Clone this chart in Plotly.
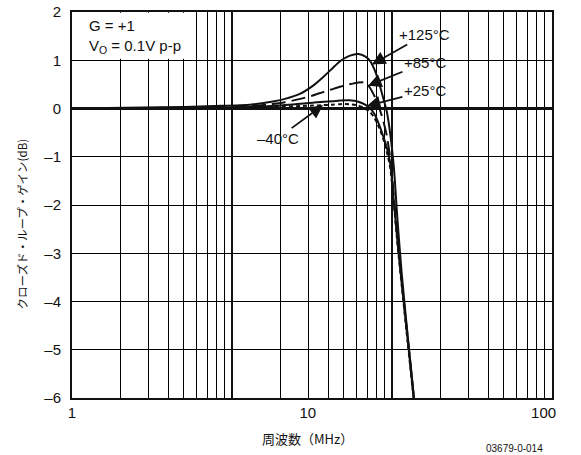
import numpy as np
import plotly.graph_objects as go

# ---- data ----
freq_mhz = [1, 2, 3, 4, 5.7, 7, 8, 9.3, 10.5, 11.6, 12.7, 13.7, 15.0, 16.4, 17.5,
            18.4, 19.2, 20.0, 20.8, 21.6, 22.4, 23.2, 24.0, 25.0, 26.2, 27.4, 28.4]
gain_125 = [0.0, 0.02, 0.03, 0.05, 0.08, 0.14, 0.20, 0.31, 0.47, 0.65, 0.83, 0.98, 1.09, 1.13, 1.08,
            0.98, 0.80, 0.55, 0.25, -0.05, -0.55, -1.25, -2.3, -3.4, -4.45, -5.4, -6.15]
gain_85 = [0.0, 0.01, 0.02, 0.03, 0.05, 0.09, 0.13, 0.20, 0.27, 0.34, 0.40, 0.45, 0.50, 0.54, 0.54,
           0.42, 0.25, 0.04, -0.22, -0.55, -1.05, -1.85, -2.7, -3.55, -4.5, -5.4, -6.15]
gain_25 = [0.0, 0.0, 0.01, 0.01, 0.03, 0.05, 0.07, 0.10, 0.12, 0.14, 0.15, 0.165, 0.17, 0.14, 0.08,
           0.0, -0.12, -0.32, -0.55, -0.8, -1.15, -1.95, -2.75, -3.6, -4.55, -5.45, -6.2]
gain_m40 = [0.0, 0.0, 0.0, 0.01, 0.02, 0.03, 0.04, 0.05, 0.06, 0.07, 0.08, 0.09, 0.09, 0.06, 0.0,
            -0.08, -0.2, -0.38, -0.6, -0.88, -1.25, -2.0, -2.8, -3.65, -4.6, -5.5, -6.2]

series_names = ["+125°C", "+85°C", "+25°C", "–40°C"]
series_gain = [gain_125, gain_85, gain_25, gain_m40]
series_dash = ["solid", "14px,6px", "solid", "4px,3px"]
# frequency (MHz) where each label's arrow touches its curve, and text offset (px)
label_tip_f = [18.7, 18.0, 17.8, 11.6]
label_off = [(53, -30), (57, -23), (58, -15), (-45, 33)]

y_ticks = [2, 1, 0, -1, -2, -3, -4, -5, -6]
y_ticktext = ["2", "1", "0", "–1", "–2", "–3", "–4", "–5", "–6"]
x_ticks = [1, 10, 100]
x_ticktext = ["1", "10", "100"]

FONT = "Liberation Sans, Arial, Noto Sans CJK JP"
JFONT = "Noto Sans CJK JP, Liberation Sans"

fig = go.Figure()
# empty traces so the overlaid grid axes get drawn
fig.add_trace(go.Scatter(x=[], y=[], xaxis="x2", yaxis="y", showlegend=False, hoverinfo="skip"))
fig.add_trace(go.Scatter(x=[], y=[], xaxis="x3", yaxis="y", showlegend=False, hoverinfo="skip"))

for name, g, d in zip(series_names, series_gain, series_dash):
    fig.add_trace(go.Scatter(x=freq_mhz, y=g, mode="lines", name=name,
                             line=dict(color="#111", width=2, dash=d, shape="spline", smoothing=0.6),
                             showlegend=False, hoverinfo="skip"))

for name, g, f, (ax, ay) in zip(series_names, series_gain, label_tip_f, label_off):
    yv = float(np.interp(np.log10(f), np.log10(freq_mhz), g))
    fig.add_annotation(x=np.log10(f), y=yv, xref="x", yref="y", text=name,
                       showarrow=True, arrowhead=2, arrowsize=1.5, arrowwidth=1.8,
                       arrowcolor="#111", ax=ax, ay=ay, axref="pixel", ayref="pixel",
                       font=dict(family=FONT, size=15, color="#111"))

# white box hiding the grid behind the condition text (upper left)
fig.add_shape(type="rect", xref="x domain", yref="y", x0=0.004, x1=0.246, y0=1.03, y1=1.985,
              fillcolor="white", line=dict(width=0), layer="above")
fig.add_annotation(xref="x domain", yref="y", x=0.031, y=1.5, xanchor="left", yanchor="middle",
                   align="left", showarrow=False,
                   text="G = +1<br>V<sub>O</sub> = 0.1V p-p",
                   font=dict(family=FONT, size=15, color="#111"))

# axis titles and code
fig.add_annotation(xref="paper", yref="paper", x=0.49, y=-0.104, text="周波数（MHz）",
                   showarrow=False, xanchor="center", yanchor="middle",
                   font=dict(family=JFONT, size=13, color="#111"))
fig.add_annotation(xref="paper", yref="paper", x=-0.104, y=0.45, text="クローズド・ループ・ゲイン(dB)",
                   showarrow=False, textangle=-90, xanchor="center", yanchor="middle",
                   font=dict(family=JFONT, size=11.5, color="#111"))
fig.add_annotation(xref="paper", yref="paper", x=0.985, y=-0.13, text="03679-0-014",
                   showarrow=False, xanchor="right", yanchor="middle",
                   font=dict(family=FONT, size=10, color="#111"))

x_span = 480 / 235.8  # decades shown on the labelled axis

fig.update_layout(
    template="none",
    width=581, height=455, autosize=False,
    margin=dict(l=72, r=29, t=12, b=57, pad=0),
    paper_bgcolor="white", plot_bgcolor="white",
    xaxis=dict(type="log", range=[0, x_span], tickvals=x_ticks, ticktext=x_ticktext,
               showgrid=False, zeroline=False, showline=True, mirror=True, automargin=False,
               linewidth=2, linecolor="#111", ticks="", ticklabeloverflow="allow",
               tickfont=dict(family=FONT, size=15, color="#111")),
    xaxis2=dict(type="log", range=[0, 3], overlaying="x", anchor="y", dtick="D1",
                showgrid=True, gridcolor="#000", gridwidth=1, showticklabels=False,
                ticks="", showline=False, zeroline=False, automargin=False),
    xaxis3=dict(type="log", range=[0, 3], overlaying="x", anchor="y", dtick=1,
                showgrid=True, gridcolor="#111", gridwidth=2, showticklabels=False,
                ticks="", showline=False, zeroline=False, automargin=False),
    yaxis=dict(range=[-6, 2], tickvals=y_ticks, ticktext=y_ticktext,
               showgrid=True, gridcolor="#000", gridwidth=1, automargin=False,
               zeroline=True, zerolinecolor="#111", zerolinewidth=2.5,
               showline=True, mirror=True, linewidth=2, linecolor="#111",
               ticks="", ticklabelstandoff=6, ticklabeloverflow="allow",
               tickfont=dict(family=FONT, size=15, color="#111")),
)

fig.write_html("out.html", config={"displayModeBar": False},
               post_script="document.body.style.margin='0';document.body.style.overflow='hidden';")
